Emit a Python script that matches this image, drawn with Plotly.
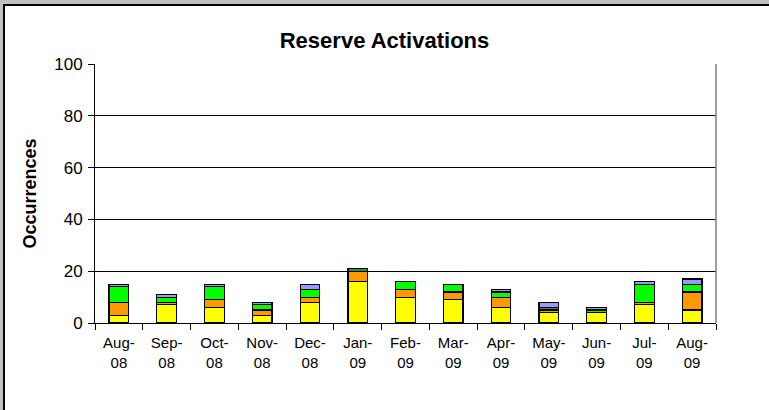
import plotly.graph_objects as go

months = ["Aug-<br>08", "Sep-<br>08", "Oct-<br>08", "Nov-<br>08", "Dec-<br>08", "Jan-<br>09",
          "Feb-<br>09", "Mar-<br>09", "Apr-<br>09", "May-<br>09", "Jun-<br>09", "Jul-<br>09", "Aug-<br>09"]

yellow_vals = [3, 7, 6, 3, 8, 16, 10, 9, 6, 4, 4, 7, 5]
orange_vals = [5, 1, 3, 2, 2, 4, 3, 3, 4, 1, 0, 1, 7]
green_vals = [6, 2, 5, 2, 3, 0, 3, 3, 2, 0, 1, 7, 3]
darkgreen_vals = [0, 0, 0, 0, 0, 1, 0, 0, 0, 1, 0, 0, 0]
lavender_vals = [1, 1, 1, 1, 2, 0, 0, 0, 1, 2, 1, 1, 2]

series = [
    ("Series 1", yellow_vals, "#FFFF00"),
    ("Series 2", orange_vals, "#FF9900"),
    ("Series 3", green_vals, "#00FF00"),
    ("Series 4", darkgreen_vals, "#22A022"),
    ("Series 5", lavender_vals, "#9999FF"),
]

fig = go.Figure()
for name, vals, col in series:
    fig.add_trace(go.Bar(
        x=months, y=vals, name=name,
        marker=dict(color=col, line=dict(color="black", width=1.2)),
    ))

W, H = 769, 410
ml, mr, mt, mb = 95, 53, 64, 87
pw = W - ml - mr
ph = H - mt - mb

def px_x(p):
    return (p - ml) / pw

def px_y(p):
    return (H - mb - p) / ph

shapes = [
    dict(type="rect", xref="paper", yref="paper", layer="below",
         x0=px_x(4), x1=px_x(W + 20), y0=px_y(5), y1=px_y(H + 20),
         fillcolor="white", line=dict(color="black", width=2)),
    dict(type="line", xref="paper", yref="paper", layer="above",
         x0=1, x1=1, y0=0, y1=1, line=dict(color="#808080", width=1.5)),
]

fig.update_layout(
    width=W, height=H,
    barmode="stack",
    bargap=0.59,
    showlegend=False,
    paper_bgcolor="#C0C0C0",
    plot_bgcolor="white",
    margin=dict(l=ml, r=mr, t=mt, b=mb, pad=0),
    font=dict(family="Liberation Sans, Arial, sans-serif", color="black"),
    title=dict(text="<b>Reserve Activations</b>", x=0.5, xanchor="center",
               y=1 - 40 / H, yanchor="middle",
               font=dict(size=22, family="Liberation Sans, Arial, sans-serif")),
    shapes=shapes,
    xaxis=dict(
        showline=True, linecolor="black", linewidth=1,
        ticks="outside", tickson="boundaries", ticklen=6, tickcolor="black",
        tickfont=dict(size=15), ticklabelstandoff=6,
        showgrid=False,
    ),
    yaxis=dict(
        range=[0, 100], dtick=20,
        showline=True, linecolor="black", linewidth=1,
        ticks="outside", ticklen=6, tickcolor="black",
        tickfont=dict(size=17), ticklabelstandoff=2,
        showgrid=True, gridcolor="black", gridwidth=1,
        zeroline=False,
        title=dict(text="<b>Occurrences</b>", font=dict(size=18), standoff=12),
    ),
)

fig.write_html("out.html", config={"displayModeBar": False},
               post_script="document.body.style.margin='0px';")
